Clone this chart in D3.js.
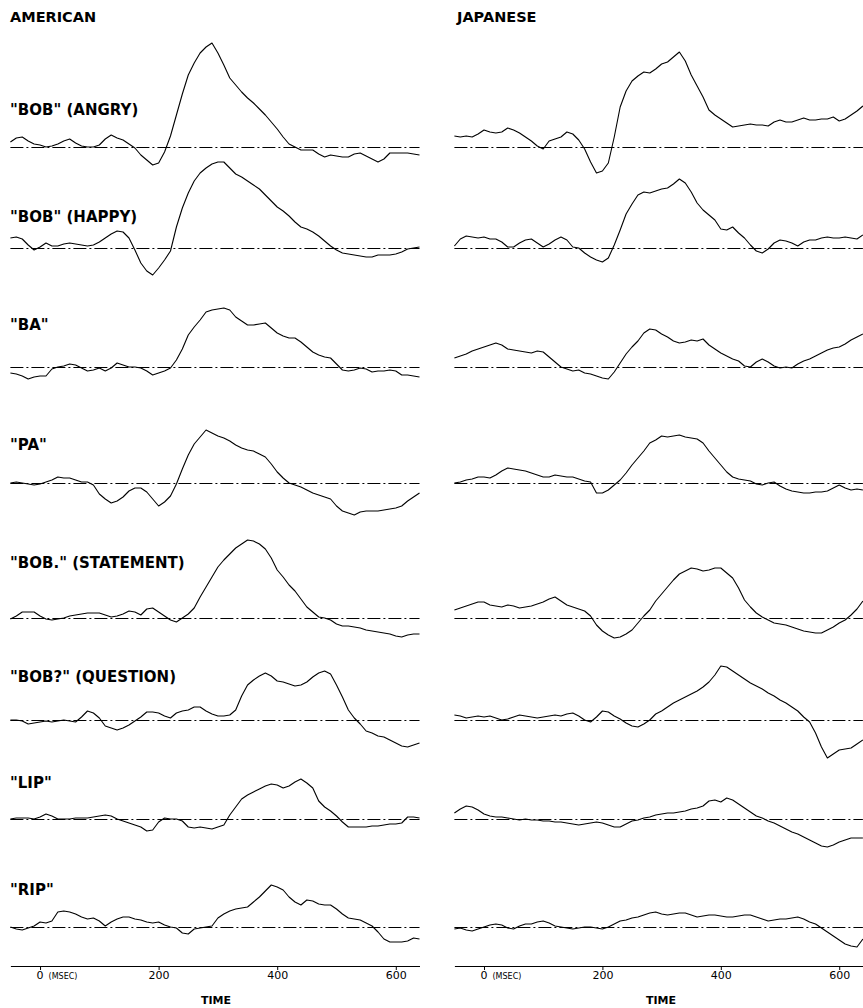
<!DOCTYPE html>
<html>
<head>
<meta charset="utf-8">
<script src="https://cdn.jsdelivr.net/npm/d3@7"></script>
<style>
  html, body { margin: 0; padding: 0; background: #fff; }
  svg { display: block; }
</style>
</head>
<body>
<script>
// Sample times (msec), one value every 10 ms
const times = [-50, -40, -30, -20, -10, 0, 10, 20, 30, 40,
  50, 60, 70, 80, 90, 100, 110, 120, 130, 140,
  150, 160, 170, 180, 190, 200, 210, 220, 230, 240,
  250, 260, 270, 280, 290, 300, 310, 320, 330, 340,
  350, 360, 370, 380, 390, 400, 410, 420, 430, 440,
  450, 460, 470, 480, 490, 500, 510, 520, 530, 540,
  550, 560, 570, 580, 590, 600, 610, 620, 630, 640];

const rowLabels = ['"BOB" (ANGRY)', '"BOB" (HAPPY)', '"BA"', '"PA"',
  '"BOB." (STATEMENT)', '"BOB?" (QUESTION)', '"LIP"', '"RIP"'];
const groupLabels = ["AMERICAN", "JAPANESE"];
const tickValues = [0, 200, 400, 600];

// American traces (amplitude, arbitrary units, positive up)
const amAngry = [5, 9, 10, 6, 3, 2, 0, 1, 3, 6,
  8, 4, 1, 0, 0, 2, 8, 12, 9, 7,
  3, -1, -8, -13, -18, -16, -5, 11, 32, 53,
  72, 84, 94, 100, 104, 94, 82, 69, 62, 55,
  49, 44, 38, 32, 25, 18, 10, 3, 0, -3,
  -3, -3, -7, -10, -8, -9, -10, -10, -7, -6,
  -9, -12, -15, -12, -6, -6, -6, -6, -7, -8];
const amHappy = [10, 11, 9, 3, -2, 1, 5, 2, 2, 4,
  5, 4, 3, 2, 3, 6, 10, 14, 17, 16,
  10, -2, -15, -23, -27, -20, -12, -3, 21, 40,
  55, 67, 75, 80, 84, 86, 86, 80, 74, 71,
  67, 63, 59, 53, 47, 41, 37, 32, 26, 21,
  19, 16, 12, 7, 2, -2, -5, -6, -7, -8,
  -9, -9, -7, -7, -7, -6, -4, -1, 0, 1];
const amBa = [-6, -7, -9, -12, -10, -9, -9, -2, 0, 1,
  3, 2, -1, -4, -3, -1, -4, -1, 4, 2,
  0, 0, -1, -4, -8, -6, -4, -1, 7, 18,
  32, 40, 47, 55, 57, 58, 59, 57, 50, 46,
  42, 42, 43, 44, 39, 34, 31, 29, 29, 25,
  20, 15, 12, 10, 9, 3, -3, -4, -3, -1,
  -2, -5, -4, -4, -3, -4, -8, -8, -9, -10];
const amPa = [0, 1, 0, -1, -2, -1, 1, 3, 6, 5,
  5, 3, 1, 1, -2, -11, -16, -20, -18, -14,
  -8, -5, -5, -9, -16, -23, -19, -13, -1, 14,
  28, 39, 46, 53, 50, 47, 45, 42, 38, 35,
  33, 32, 29, 26, 19, 11, 5, 0, -2, -4,
  -7, -10, -12, -14, -16, -23, -28, -30, -32, -29,
  -28, -28, -28, -27, -26, -25, -23, -18, -14, -10];
const amStatement = [-1, 2, 6, 6, 6, 2, -1, -2, -1, 0,
  2, 3, 4, 5, 5, 5, 3, 1, 2, 4,
  7, 6, 3, 9, 10, 6, 2, -2, -4, 0,
  4, 10, 21, 31, 41, 51, 58, 64, 70, 74,
  78, 77, 74, 69, 60, 48, 41, 33, 27, 19,
  11, 6, 1, 0, -2, -6, -8, -8, -9, -10,
  -12, -13, -14, -15, -16, -18, -19, -17, -16, -16];
const amQuestion = [0, 0, -1, -4, -3, -2, -1, -2, -1, 0,
  -1, -2, 3, 9, 7, 2, -6, -8, -10, -8,
  -5, -1, 3, 8, 8, 7, 4, 2, 7, 9,
  10, 13, 13, 9, 6, 4, 4, 5, 10, 24,
  35, 40, 44, 47, 44, 39, 38, 36, 34, 35,
  38, 43, 47, 49, 46, 35, 23, 10, 2, -4,
  -11, -13, -16, -17, -20, -23, -26, -27, -25, -23];
const amLip = [0, 1, 1, 1, 0, 2, 5, 3, 0, 0,
  0, 1, 1, 1, 2, 3, 4, 3, 0, -2,
  -4, -6, -8, -12, -11, -3, 1, 0, 0, -2,
  -8, -9, -8, -9, -10, -8, -6, 4, 12, 20,
  24, 27, 30, 33, 35, 34, 31, 33, 37, 40,
  36, 31, 18, 12, 8, 3, -3, -8, -8, -8,
  -8, -7, -7, -6, -5, -5, -4, 2, 2, 1];
const amRip = [0, -2, -3, -1, 1, 5, 4, 6, 15, 16,
  15, 13, 10, 8, 9, 6, 1, 5, 8, 10,
  10, 8, 7, 5, 4, 5, 2, 0, -1, -6,
  -7, -2, -1, 0, 1, 9, 13, 16, 18, 19,
  20, 25, 30, 36, 42, 40, 37, 30, 25, 22,
  27, 26, 23, 22, 22, 18, 13, 9, 8, 7,
  4, 1, -5, -12, -15, -15, -15, -14, -11, -12];

// Japanese traces
const jpAngry = [11, 10, 11, 10, 13, 17, 15, 14, 15, 19,
  17, 14, 10, 6, 1, -2, 6, 8, 10, 15,
  13, 7, -2, -15, -26, -24, -16, 10, 40, 56,
  66, 71, 75, 74, 78, 83, 85, 90, 95, 86,
  72, 61, 50, 37, 32, 28, 24, 20, 21, 22,
  23, 22, 22, 21, 25, 27, 25, 25, 27, 29,
  27, 27, 28, 28, 30, 26, 28, 32, 36, 41];
const jpHappy = [2, 9, 12, 11, 10, 11, 9, 9, 6, 1,
  1, 5, 8, 9, 5, 1, 4, 8, 11, 8,
  1, 0, -5, -9, -12, -14, -10, 3, 18, 34,
  44, 53, 56, 55, 57, 59, 60, 64, 69, 65,
  56, 45, 38, 33, 28, 19, 18, 21, 15, 10,
  3, -3, -5, -1, 5, 8, 7, 5, 2, 6,
  8, 8, 10, 11, 10, 10, 11, 10, 9, 13];
const jpBa = [9, 11, 13, 16, 18, 20, 22, 24, 22, 18,
  17, 16, 15, 14, 16, 15, 10, 5, 0, -2,
  -4, -3, -6, -7, -9, -11, -12, -5, 4, 13,
  20, 26, 34, 38, 37, 33, 30, 26, 24, 25,
  27, 26, 28, 22, 18, 14, 11, 8, 6, 1,
  0, 5, 8, 5, 1, -1, 0, -1, 3, 6,
  8, 11, 14, 17, 19, 20, 23, 27, 30, 33];
const jpPa = [0, 1, 3, 4, 6, 6, 5, 8, 12, 15,
  14, 13, 12, 10, 8, 6, 6, 8, 7, 6,
  6, 4, 2, 1, -10, -10, -7, -2, 3, 10,
  18, 25, 32, 40, 43, 47, 46, 47, 48, 46,
  45, 44, 40, 32, 25, 18, 11, 6, 4, 3,
  2, -1, -2, 0, 1, -3, -6, -8, -9, -10,
  -10, -9, -9, -8, -5, -2, -5, -7, -6, -7];
const jpStatement = [8, 10, 12, 14, 16, 16, 13, 12, 11, 13,
  12, 10, 11, 12, 14, 16, 19, 21, 17, 13,
  11, 9, 7, 2, -7, -13, -17, -20, -19, -16,
  -12, -5, 2, 8, 17, 24, 31, 38, 44, 47,
  50, 49, 47, 48, 50, 50, 45, 40, 30, 18,
  11, 5, 1, -2, -5, -6, -7, -9, -11, -13,
  -14, -15, -15, -12, -9, -5, -2, 3, 9, 17];
const jpQuestion = [5, 4, 2, 3, 4, 3, 4, 2, 0, 1,
  3, 5, 4, 3, 2, 3, 4, 5, 4, 6,
  7, 4, 0, -2, 3, 9, 8, 4, 1, -3,
  -6, -7, -4, 0, 6, 9, 13, 17, 20, 23,
  26, 29, 33, 38, 45, 54, 53, 49, 45, 41,
  37, 34, 31, 27, 24, 20, 17, 13, 9, 3,
  -2, -13, -27, -38, -34, -30, -29, -28, -24, -20];
const jpLip = [6, 10, 13, 12, 9, 5, 3, 2, 2, 1,
  0, -1, 0, -1, -1, -2, -2, -3, -3, -4,
  -5, -6, -5, -4, -3, -4, -6, -8, -8, -5,
  -2, -1, 1, 2, 4, 5, 6, 6, 7, 8,
  10, 11, 13, 18, 19, 17, 21, 19, 15, 11,
  7, 3, 1, -2, -4, -7, -10, -13, -15, -18,
  -21, -24, -27, -28, -26, -23, -21, -19, -19, -19];
const jpRip = [-2, -1, -3, -4, -2, 0, 2, 3, 2, -1,
  -2, 1, 3, 3, 5, 6, 4, 1, 0, -1,
  -2, -1, 0, 0, -1, -2, 0, 3, 6, 7,
  9, 10, 12, 14, 15, 13, 12, 13, 14, 14,
  12, 10, 11, 12, 12, 11, 10, 10, 11, 12,
  12, 10, 8, 6, 7, 8, 8, 9, 10, 8,
  5, 3, -1, -5, -9, -13, -17, -19, -20, -12];

const american = [amAngry, amHappy, amBa, amPa, amStatement, amQuestion, amLip, amRip];
const japanese = [jpAngry, jpHappy, jpBa, jpPa, jpStatement, jpQuestion, jpLip, jpRip];

// Layout
const width = 863, height = 1008;
const rowBaselines = [147, 248, 367, 483, 618, 720, 819, 927];
const labelBaselines = [115, 222, 330, 450, 568, 682, 788, 895];
const panels = [
  { title: groupLabels[0], series: american, range: [10.4, 419.5], titleX: 10, timeX: 216, labels: true },
  { title: groupLabels[1], series: japanese, range: [454.4, 862.9], titleX: 457, timeX: 661, labels: false }
];
const axisY = 966;

const svg = d3.select("body")
  .append("svg")
  .attr("width", width)
  .attr("height", height)
  .attr("viewBox", [0, 0, width, height])
  .attr("font-family", "DejaVu Sans, sans-serif");

panels.forEach(p => {
  const x = d3.scaleLinear().domain([-50, 640]).range(p.range);
  const g = svg.append("g");

  // Group title
  g.append("text")
    .attr("x", p.titleX)
    .attr("y", 22)
    .attr("font-size", 14.5)
    .attr("font-weight", "bold")
    .text(p.title);

  p.series.forEach((values, i) => {
    const b = rowBaselines[i];
    const y = d3.scaleLinear().domain([-50, 110]).range([b + 50, b - 110]);

    // dash-dot zero line (half-pixel offset keeps it crisp)
    g.append("line")
      .attr("x1", p.range[0])
      .attr("x2", p.range[1])
      .attr("y1", y(0) + 0.5)
      .attr("y2", y(0) + 0.5)
      .attr("stroke", "#000")
      .attr("stroke-width", 1)
      .attr("stroke-dasharray", "13,3,2,3");

    const line = d3.line()
      .x((d, j) => x(times[j]))
      .y(d => y(d));

    g.append("path")
      .datum(values)
      .attr("fill", "none")
      .attr("stroke", "#000")
      .attr("stroke-width", 1.1)
      .attr("stroke-linejoin", "round")
      .attr("d", line);

    if (p.labels) {
      g.append("text")
        .attr("x", 10)
        .attr("y", labelBaselines[i])
        .attr("font-size", 15)
        .attr("font-weight", "bold")
        .text(rowLabels[i]);
    }
  });

  // Time axis
  const axis = d3.axisBottom(x)
    .tickValues(tickValues)
    .tickSize(4)
    .tickSizeOuter(0)
    .tickFormat(d => d);

  const ax = g.append("g")
    .attr("transform", `translate(0,${axisY})`)
    .call(axis);
  ax.select(".domain").attr("stroke-width", 1.2);
  ax.selectAll(".tick text")
    .attr("font-size", 11)
    .attr("font-family", "DejaVu Sans, sans-serif")
    .attr("dy", "0.55em");
  ax.selectAll(".tick")
    .filter(d => d === 0)
    .select("text")
    .attr("text-anchor", "start")
    .attr("dx", -4)
    .text("0")
    .append("tspan")
    .attr("font-size", 8)
    .attr("dx", 5)
    .text("(MSEC)");

  g.append("text")
    .attr("x", p.timeX)
    .attr("y", 1004)
    .attr("text-anchor", "middle")
    .attr("font-size", 11)
    .attr("font-weight", "bold")
    .text("TIME");
});
</script>
</body>
</html>
